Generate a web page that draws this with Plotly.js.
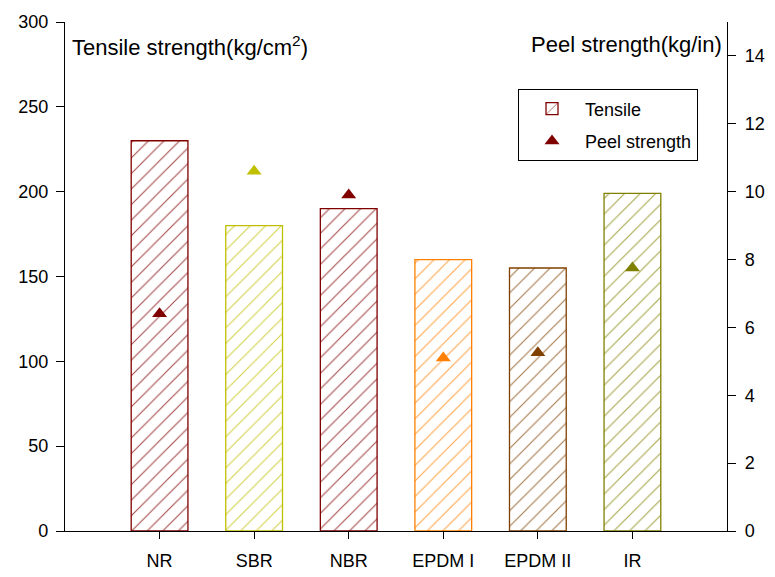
<!DOCTYPE html>
<html><head><meta charset="utf-8">
<script src="https://cdn.plot.ly/plotly-3.0.1.min.js"></script>
<style>body{margin:0;background:#fff}#c{width:775px;height:577px}</style>
</head><body><div id="c"></div>
<script>
const categories = ["NR","SBR","NBR","EPDM I","EPDM II","IR"];
const tensile = [230,180,190,160,155,199];
const peel = [6.4,10.6,9.9,5.1,5.25,7.75];
const barColors = ["#800000","#BFBF00","#800000","#FF8000","#804000","#808000"];
const peelColors = ["#800000","#BFBF00","#800000","#FF8000","#804000","#808000"];
const leftTicks = [0,50,100,150,200,250,300];
const rightTicks = [0,2,4,6,8,10,12,14];
const xIdx = categories.map((c,i)=>i);

const font = {family:"Liberation Sans, Arial, sans-serif", size:18, color:"#000"};

const data = [
 {type:"bar", name:"Tensile", x:xIdx, y:tensile, width:0.6, legendgroup:"a",
  marker:{color:"#fff", line:{color:barColors,width:1.3},
   pattern:{shape:"/", fgcolor:barColors, bgcolor:"#fff", size:11, solidity:0.1, fgopacity:0.7}}},
 {type:"scatter", mode:"markers", name:"Peel strength", x:xIdx, y:peel, yaxis:"y2", legendgroup:"b",
  marker:{symbol:"triangle-up", size:13, color:peelColors}}
];

const layout = {
 width:775, height:577, margin:{l:65,r:48,t:22,b:46},
 paper_bgcolor:"#fff", plot_bgcolor:"#fff", font:font, showlegend:true,
 xaxis:{range:[-1,6], tickvals:xIdx, ticktext:categories, ticks:"outside", ticklen:7,
   tickcolor:"#000", showline:true, linecolor:"#000", linewidth:1.2, showgrid:false, zeroline:false,
   tickfont:{size:18}, ticklabelstandoff:6},
 yaxis:{range:[0,300], tickvals:leftTicks, ticks:"outside", ticklen:8, tickcolor:"#000",
   showline:true, linecolor:"#000", linewidth:1.2, mirror:true, showgrid:false, zeroline:false,
   tickfont:{size:18}, ticklabelstandoff:4},
 yaxis2:{range:[0,15], tickvals:rightTicks, overlaying:"y", side:"right", ticks:"outside", ticklen:8,
   tickcolor:"#000", showline:true, linecolor:"#000", linewidth:1.2, showgrid:false, zeroline:false,
   tickfont:{size:18}, ticklabelstandoff:5},
 legend:{x:0.684, y:0.868, xanchor:"left", yanchor:"top", bordercolor:"#000", borderwidth:1.2,
   bgcolor:"#fff", font:{size:18}, tracegroupgap:6, itemwidth:56},
 annotations:[
  {text:"Tensile strength(kg/cm<sup>2</sup>)", xref:"paper", yref:"paper", x:0.008, y:0.985,
   xanchor:"left", yanchor:"top", showarrow:false, font:{size:22}},
  {text:"Peel strength(kg/in)", xref:"paper", yref:"paper", x:0.995, y:0.985,
   xanchor:"right", yanchor:"top", showarrow:false, font:{size:22}}
 ]
};
Plotly.newPlot("c", data, layout, {displayModeBar:false, staticPlot:true});
</script></body></html>
